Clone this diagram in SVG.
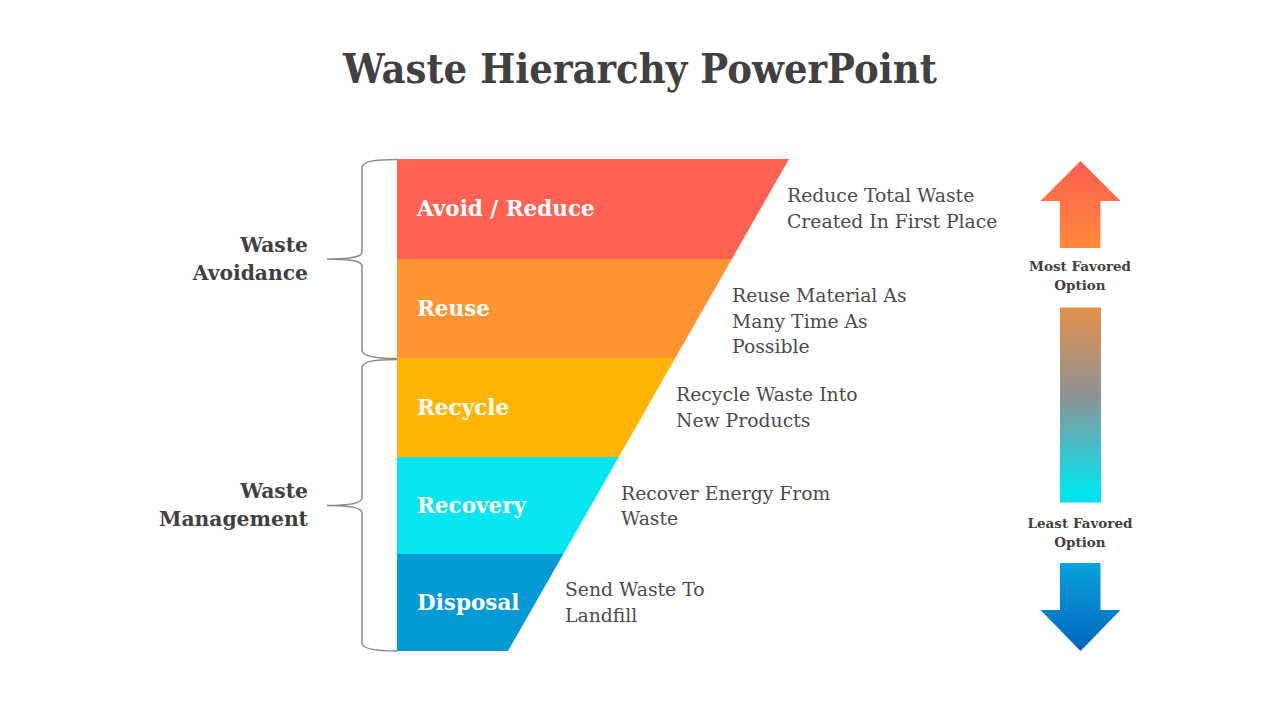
<svg xmlns="http://www.w3.org/2000/svg" width="1280" height="720" viewBox="0 0 1280 720">
<defs>
<linearGradient id="gUp" x1="0" y1="0" x2="0" y2="1"><stop offset="0" stop-color="#FF5D50"/><stop offset="1" stop-color="#FF8A3A"/></linearGradient>
<linearGradient id="gBar" x1="0" y1="0" x2="0" y2="1"><stop offset="0" stop-color="#E4914A"/><stop offset="0.45" stop-color="#8E9295"/><stop offset="0.95" stop-color="#02E6F2"/><stop offset="1" stop-color="#00DDEB"/></linearGradient>
<linearGradient id="gDown" x1="0" y1="0" x2="0" y2="1"><stop offset="0" stop-color="#08A2DC"/><stop offset="1" stop-color="#0066BE"/></linearGradient>
<style>
.title{font-family:"DejaVu Serif","Liberation Serif",serif;font-weight:bold;font-size:41px;fill:#404040}
.side{font-family:"DejaVu Serif","Liberation Serif",serif;font-weight:bold;font-size:20.3px;fill:#404040;text-anchor:end}
.band{font-family:"DejaVu Serif","Liberation Serif",serif;font-weight:bold;font-size:21.5px;fill:#ffffff}
.desc{font-family:"DejaVu Serif","Liberation Serif",serif;font-size:18.8px;fill:#4a4a4a}
.fav{font-family:"DejaVu Serif","Liberation Serif",serif;font-weight:bold;font-size:13.5px;fill:#404040;text-anchor:middle}
.brace{fill:none;stroke:#8a8a8a;stroke-width:1.5}
</style>
</defs>
<rect width="1280" height="720" fill="#ffffff"/>
<text class="title" x="640" y="83" text-anchor="middle" textLength="594" lengthAdjust="spacingAndGlyphs">Waste Hierarchy PowerPoint</text>

<g id="band-avoid">
<polygon points="397,159 789,159 731.9,259 397,259" fill="#FF6153"/>
<text class="band" x="417" y="216">Avoid / Reduce</text>
<text class="desc" x="787" y="202">Reduce Total Waste</text>
<text class="desc" x="787" y="228">Created In First Place</text>
</g>
<g id="band-reuse">
<polygon points="397,259 731.9,259 675.3,358 397,358" fill="#FD9331"/>
<text class="band" x="417" y="316">Reuse</text>
<text class="desc" x="732" y="302">Reuse Material As</text>
<text class="desc" x="732" y="328">Many Time As</text>
<text class="desc" x="732" y="353">Possible</text>
</g>
<g id="band-recycle">
<polygon points="397,358 675.3,358 618.8,457 397,457" fill="#FFB502"/>
<text class="band" x="417" y="415">Recycle</text>
<text class="desc" x="676" y="401">Recycle Waste Into</text>
<text class="desc" x="676" y="427">New Products</text>
</g>
<g id="band-recovery">
<polygon points="397,457 618.8,457 563.4,554 397,554" fill="#05E6F0"/>
<text class="band" x="417" y="513">Recovery</text>
<text class="desc" x="621" y="500">Recover Energy From</text>
<text class="desc" x="621" y="525">Waste</text>
</g>
<g id="band-disposal">
<polygon points="397,554 563.4,554 508,651 397,651" fill="#039AD6"/>
<text class="band" x="417" y="610">Disposal</text>
<text class="desc" x="565" y="596">Send Waste To</text>
<text class="desc" x="565" y="622">Landfill</text>
</g>

<g id="brace-avoidance">
<path class="brace" d="M397,159.5 C375,159.5 362,161 362,168 L362,252 C362,257 352,259 327,259 C352,259 362,261 362,266 L362,350 C362,356 375,358.5 397,358.5"/>
<text class="side" x="308" y="252">Waste</text>
<text class="side" x="308" y="280">Avoidance</text>
</g>
<g id="brace-management">
<path class="brace" d="M397,359.5 C375,359.5 362,361 362,368 L362,498 C362,503 352,505.5 327,505.5 C352,505.5 362,508 362,513 L362,643 C362,649 375,651 397,651"/>
<text class="side" x="308" y="498">Waste</text>
<text class="side" x="308" y="526">Management</text>
</g>

<g id="scale">
<polygon points="1080.5,161 1120.5,201 1100.5,201 1100.5,248 1060,248 1060,201 1040.5,201" fill="url(#gUp)"/>
<text class="fav" x="1080" y="271">Most Favored</text>
<text class="fav" x="1080" y="290">Option</text>
<rect x="1060" y="307.5" width="41" height="195" fill="url(#gBar)"/>
<text class="fav" x="1080" y="528">Least Favored</text>
<text class="fav" x="1080" y="547">Option</text>
<polygon points="1060,563 1100.5,563 1100.5,610 1120.5,610 1080.5,651 1040.5,610 1060,610" fill="url(#gDown)"/>
</g>
</svg>
